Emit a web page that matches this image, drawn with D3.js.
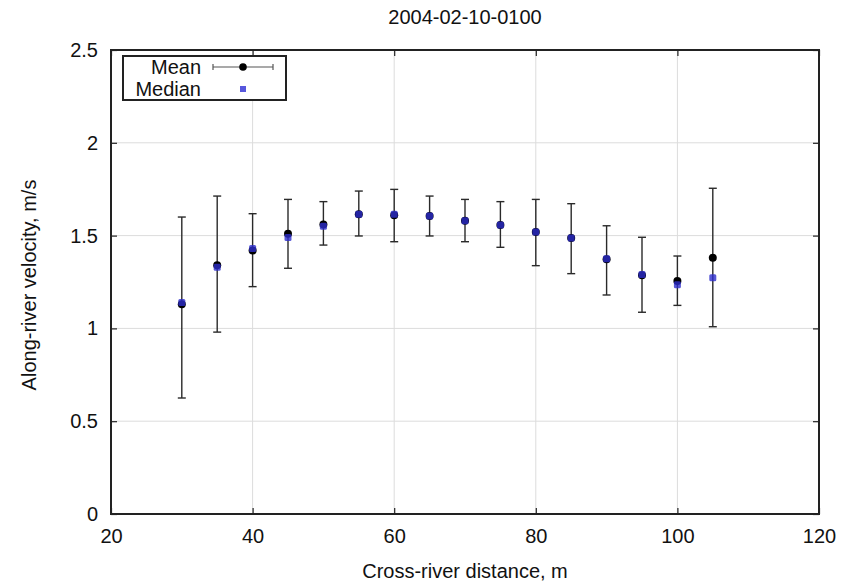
<!DOCTYPE html>
<html>
<head>
<meta charset="utf-8">
<script src="https://cdn.jsdelivr.net/npm/d3@7"></script>
<style>
  body { margin: 0; background: #fff; }
  svg { display: block; }
  text { font-family: "Liberation Sans", Arial, Helvetica, sans-serif; fill: #111; }
</style>
</head>
<body>
<svg id="chart" width="841" height="581"></svg>
<script>
// Cross-river profile of along-river velocity
const title = "2004-02-10-0100";
const distance = [30, 35, 40, 45, 50, 55, 60, 65, 70, 75, 80, 85, 90, 95, 100, 105];
const meanVel  = [1.13, 1.34, 1.42, 1.51, 1.56, 1.615, 1.61, 1.605, 1.58, 1.557, 1.52, 1.487, 1.372, 1.286, 1.255, 1.38];
const medianVel= [1.14, 1.33, 1.43, 1.49, 1.55, 1.615, 1.615, 1.605, 1.58, 1.557, 1.52, 1.487, 1.375, 1.29, 1.235, 1.273];
const errHigh  = [1.60, 1.713, 1.618, 1.695, 1.683, 1.740, 1.749, 1.713, 1.695, 1.683, 1.695, 1.672, 1.553, 1.491, 1.390, 1.755];
const errLow   = [0.625, 0.98, 1.225, 1.324, 1.449, 1.498, 1.467, 1.498, 1.467, 1.437, 1.338, 1.295, 1.180, 1.087, 1.124, 1.009];
const xTicks = [20, 40, 60, 80, 100, 120];
const yTicks = [0, 0.5, 1, 1.5, 2, 2.5];
const xLabel = "Cross-river distance, m";
const yLabel = "Along-river velocity, m/s";
const legendLabels = ["Mean", "Median"];

const svg = d3.select("#chart");
const plotL = 111, plotR = 819, plotT = 50, plotB = 514;
const x = d3.scaleLinear().domain([20, 120]).range([plotL, plotR]);
const y = d3.scaleLinear().domain([0, 2.5]).range([plotB, plotT]);
const fontSize = 20;

// grid
const grid = svg.append("g").attr("stroke", "#dcdcdc").attr("stroke-width", 1);
xTicks.slice(1, -1).forEach(t => grid.append("line")
  .attr("x1", x(t)).attr("x2", x(t)).attr("y1", plotT).attr("y2", plotB));
yTicks.slice(1, -1).forEach(t => grid.append("line")
  .attr("x1", plotL).attr("x2", plotR).attr("y1", y(t)).attr("y2", y(t)));

// axes with inward ticks, mirrored on top and right
const tickLen = 6;
svg.append("g").attr("transform", `translate(0,${plotB})`)
  .call(d3.axisBottom(x).tickValues(xTicks).tickSize(-tickLen).tickPadding(15).tickFormat(d3.format("d")))
  .call(g => g.select(".domain").remove());
svg.append("g").attr("transform", `translate(0,${plotT})`)
  .call(d3.axisTop(x).tickValues(xTicks).tickSize(-tickLen).tickFormat(""))
  .call(g => g.select(".domain").remove());
svg.append("g").attr("transform", `translate(${plotL},0)`)
  .call(d3.axisLeft(y).tickValues(yTicks).tickSize(-tickLen).tickPadding(13).tickFormat(d => String(d)))
  .call(g => g.select(".domain").remove());
svg.append("g").attr("transform", `translate(${plotR},0)`)
  .call(d3.axisRight(y).tickValues(yTicks).tickSize(-tickLen).tickFormat(""))
  .call(g => g.select(".domain").remove());
svg.selectAll(".tick line").attr("stroke", "#222").attr("stroke-width", 1.2);
svg.selectAll(".tick text").attr("font-size", fontSize)
  .attr("font-family", "'Liberation Sans', Arial, sans-serif").attr("fill", "#111");

// frame
svg.append("rect").attr("x", plotL).attr("y", plotT)
  .attr("width", plotR - plotL).attr("height", plotB - plotT)
  .attr("fill", "none").attr("stroke", "#222").attr("stroke-width", 2);

// titles
svg.append("text").attr("x", 465).attr("y", 24).attr("text-anchor", "middle")
  .attr("font-size", fontSize).text(title);
svg.append("text").attr("x", 465).attr("y", 578).attr("text-anchor", "middle")
  .attr("font-size", fontSize).text(xLabel);
svg.append("text").attr("transform", "translate(36,285) rotate(-90)")
  .attr("text-anchor", "middle").attr("font-size", fontSize).text(yLabel);

// error bars
const cap = 4;
const bars = svg.append("g").attr("stroke", "#2a2a2a").attr("stroke-width", 1.4);
distance.forEach((d, i) => {
  bars.append("line").attr("x1", x(d)).attr("x2", x(d)).attr("y1", y(errLow[i])).attr("y2", y(errHigh[i]));
  bars.append("line").attr("x1", x(d) - cap).attr("x2", x(d) + cap).attr("y1", y(errLow[i])).attr("y2", y(errLow[i]));
  bars.append("line").attr("x1", x(d) - cap).attr("x2", x(d) + cap).attr("y1", y(errHigh[i])).attr("y2", y(errHigh[i]));
});

// mean points
svg.append("g").selectAll("circle").data(distance).join("circle")
  .attr("cx", d => x(d)).attr("cy", (d, i) => y(meanVel[i])).attr("r", 4).attr("fill", "#000");

// median points
const ms = 7;
svg.append("g").selectAll("rect").data(distance).join("rect")
  .attr("x", d => x(d) - ms / 2).attr("y", (d, i) => y(medianVel[i]) - ms / 2)
  .attr("width", ms).attr("height", ms).attr("rx", 1.5)
  .attr("fill", "#2d2dcc").attr("opacity", 0.8);

// legend
const lg = svg.append("g");
lg.append("rect").attr("x", 123).attr("y", 56).attr("width", 163).attr("height", 44)
  .attr("fill", "#fff").attr("stroke", "#222").attr("stroke-width", 2);
lg.append("text").attr("x", 201).attr("y", 74).attr("text-anchor", "end")
  .attr("font-size", fontSize).text(legendLabels[0]);
lg.append("text").attr("x", 201).attr("y", 96).attr("text-anchor", "end")
  .attr("font-size", fontSize).text(legendLabels[1]);
const ly = 67;
lg.append("line").attr("x1", 213).attr("x2", 273).attr("y1", ly).attr("y2", ly).attr("stroke", "#555").attr("stroke-width", 1.2);
lg.append("line").attr("x1", 213).attr("x2", 213).attr("y1", ly - 3).attr("y2", ly + 3).attr("stroke", "#555").attr("stroke-width", 1.2);
lg.append("line").attr("x1", 273).attr("x2", 273).attr("y1", ly - 3).attr("y2", ly + 3).attr("stroke", "#555").attr("stroke-width", 1.2);
lg.append("circle").attr("cx", 243).attr("cy", ly).attr("r", 3.8).attr("fill", "#000");
lg.append("rect").attr("x", 243 - 3).attr("y", 89 - 3).attr("width", 6).attr("height", 6)
  .attr("fill", "#3a3ad6").attr("opacity", 0.85);
</script>
</body>
</html>
